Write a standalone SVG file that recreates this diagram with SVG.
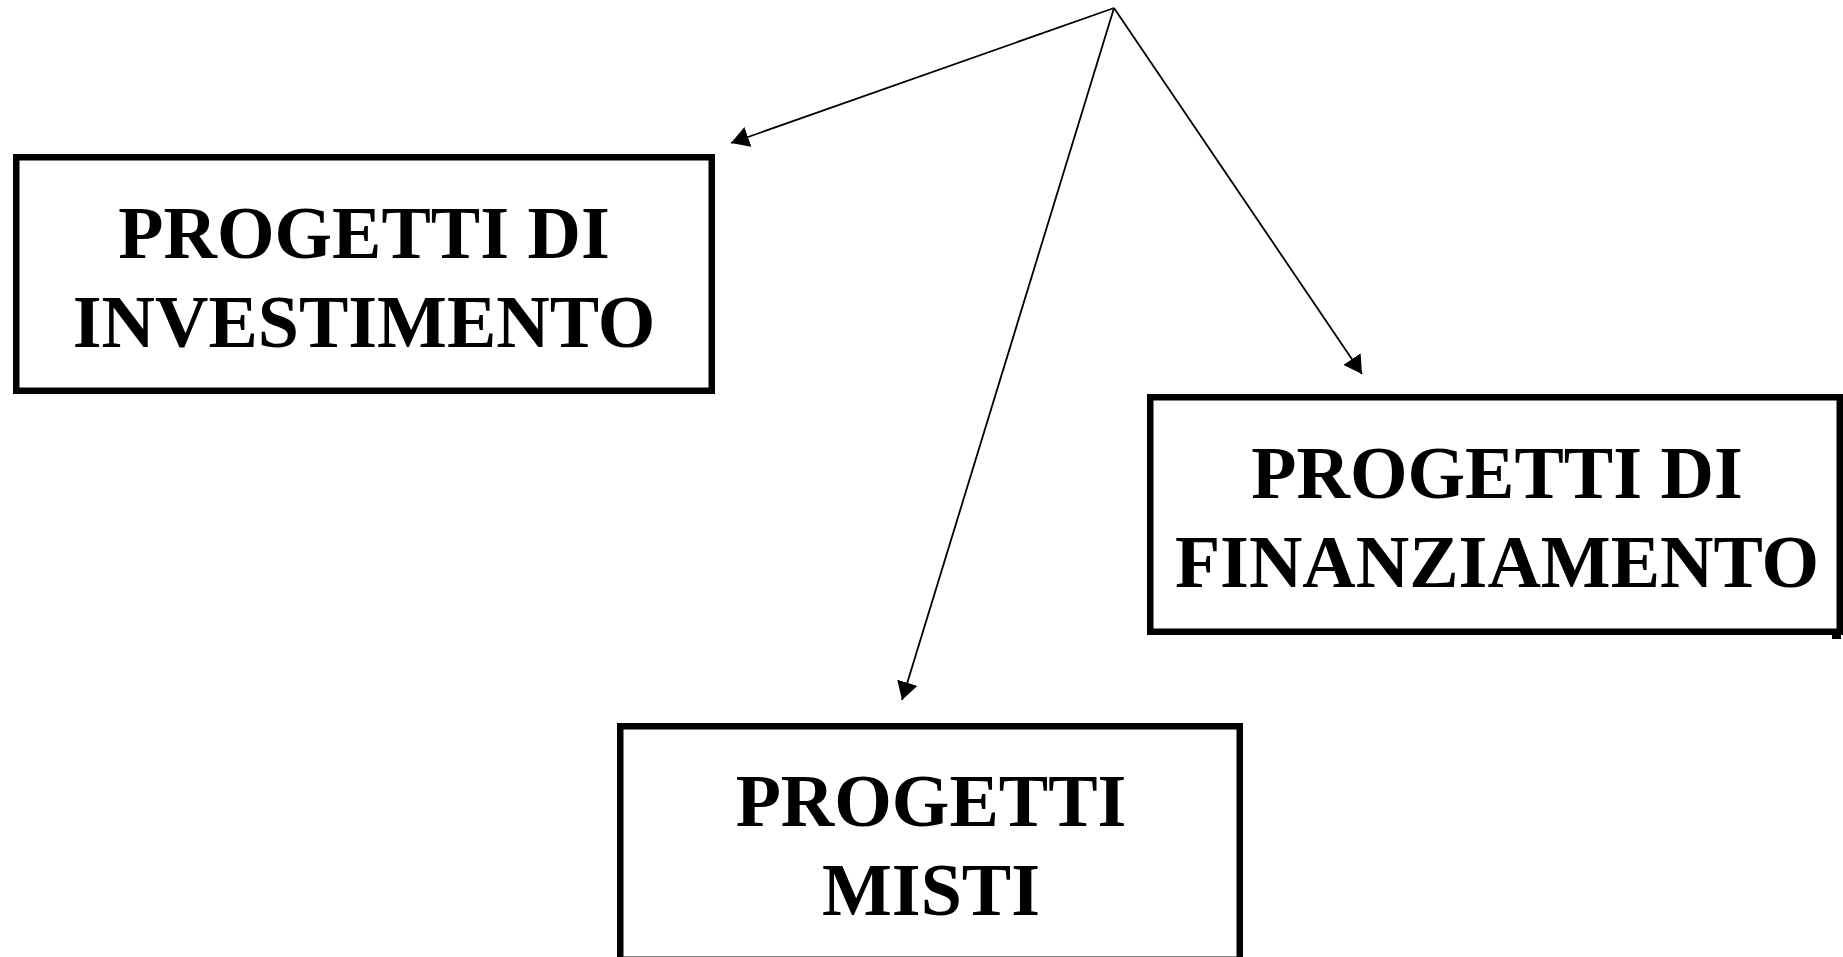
<svg xmlns="http://www.w3.org/2000/svg" width="1843" height="957" viewBox="0 0 1843 957">
<style>
.box{fill:#fff;stroke:#000;stroke-width:6.5}
.lbl{font-family:"Liberation Serif","Times New Roman",serif;font-weight:bold;font-size:74px;fill:#000;text-anchor:middle}
.conn{stroke:#000;stroke-width:1.8;fill:none}
</style>
<defs>
<marker id="ah" markerUnits="userSpaceOnUse" markerWidth="18" markerHeight="21" refX="18" refY="10.5" orient="auto">
<path d="M0,0 L18,10.5 L0,21 z" fill="#000"/>
</marker>
</defs>
<rect width="1843" height="957" fill="#fff"/>
<g id="node-investimento">
<rect class="box" x="16.25" y="157.25" width="695.5" height="233.5"/>
<text class="lbl" x="364" y="258">PROGETTI DI</text>
<text class="lbl" x="364" y="347">INVESTIMENTO</text>
</g>
<g id="node-finanziamento">
<rect class="box" x="1150.25" y="397.25" width="689.5" height="234.5"/>
<rect x="1832" y="634" width="9" height="5" fill="#000"/>
<text class="lbl" x="1497" y="498">PROGETTI DI</text>
<text class="lbl" x="1497" y="587">FINANZIAMENTO</text>
</g>
<g id="node-misti">
<rect class="box" x="620.25" y="726.25" width="619.5" height="233.5"/>
<text class="lbl" x="931" y="826">PROGETTI</text>
<text class="lbl" x="931" y="915">MISTI</text>
</g>
<g id="connectors">
<line class="conn" x1="1114" y1="8" x2="731" y2="143" marker-end="url(#ah)"/>
<line class="conn" x1="1114" y1="8" x2="902" y2="700" marker-end="url(#ah)"/>
<line class="conn" x1="1114" y1="8" x2="1362" y2="374" marker-end="url(#ah)"/>
</g>
</svg>
